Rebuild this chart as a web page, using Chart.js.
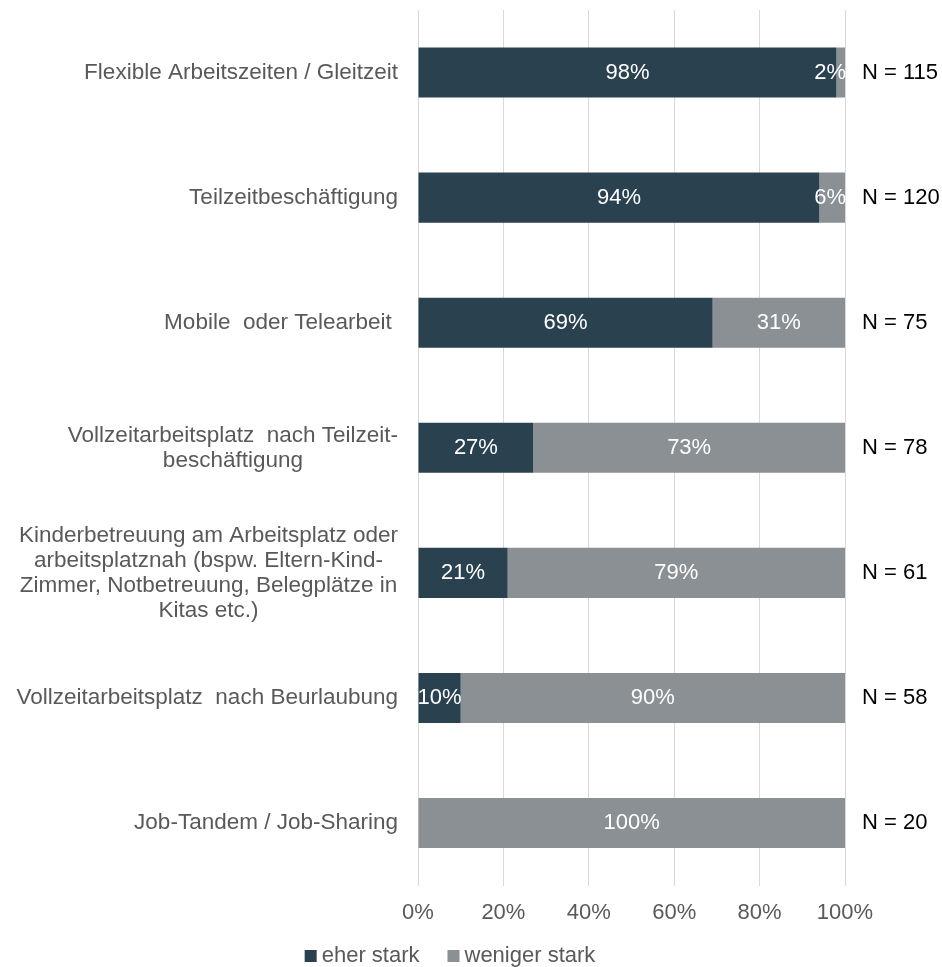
<!DOCTYPE html>
<html>
<head>
<meta charset="utf-8">
<script src="https://cdn.jsdelivr.net/npm/chart.js@4/dist/chart.umd.min.js"></script>
<style>
  html, body { margin: 0; padding: 0; background: #fff; }
  #wrap { width: 942px; height: 967px; }
</style>
</head>
<body>
<div id="wrap"><canvas id="js-chart-massnahmen"></canvas></div>
<script>
// Kategorien (mehrzeilig wie im Original)
const categories = [
  ['Flexible Arbeitszeiten / Gleitzeit'],
  ['Teilzeitbeschäftigung'],
  ['Mobile  oder Telearbeit '],
  ['Vollzeitarbeitsplatz  nach Teilzeit-', 'beschäftigung'],
  ['Kinderbetreuung am Arbeitsplatz oder', 'arbeitsplatznah (bspw. Eltern-Kind-', 'Zimmer, Notbetreuung, Belegplätze in', 'Kitas etc.)'],
  ['Vollzeitarbeitsplatz  nach Beurlaubung'],
  ['Job-Tandem / Job-Sharing']
];
const eherStark = [98, 94, 69, 27, 21, 10, 0];
const wenigerStark = [2, 6, 31, 73, 79, 90, 100];
const nValues = [115, 120, 75, 78, 61, 58, 20];
const xTicks = [0, 20, 40, 60, 80, 100];

const fontFamily = '"Liberation Sans", Arial, sans-serif';
const fontSize = 22;
const textColor = '#595959';

// Kategorie-Beschriftungen links (Block rechtsbündig, Zeilen zentriert)
const categoryLabels = {
  id: 'categoryLabels',
  afterDraw(chart) {
    const ctx = chart.ctx;
    const yScale = chart.scales.y;
    const right = chart.chartArea.left - 20;
    const lineHeight = 25;
    ctx.save();
    ctx.font = '22.5px ' + fontFamily;
    ctx.fillStyle = textColor;
    ctx.textAlign = 'center';
    ctx.textBaseline = 'middle';
    categories.forEach((lines, i) => {
      const maxW = Math.max(...lines.map(l => ctx.measureText(l).width));
      const cx = right - maxW / 2;
      const cy = yScale.getPixelForValue(i);
      const top = cy - (lines.length - 1) * lineHeight / 2;
      lines.forEach((l, j) => ctx.fillText(l, cx, top + j * lineHeight));
    });
    ctx.restore();
  }
};

// Prozentwerte in den Balken und N rechts
const valueLabels = {
  id: 'valueLabels',
  afterDatasetsDraw(chart) {
    const ctx = chart.ctx;
    const area = chart.chartArea;
    ctx.save();
    ctx.font = fontSize + 'px ' + fontFamily;
    ctx.textAlign = 'center';
    ctx.textBaseline = 'middle';
    ctx.fillStyle = '#ffffff';
    chart.data.datasets.forEach((ds, di) => {
      chart.getDatasetMeta(di).data.forEach((bar, i) => {
        const v = ds.data[i];
        if (!v) return;
        const text = v + '%';
        const w = ctx.measureText(text).width;
        // schmale Segmente am rechten Rand: Beschriftung nicht über den Rand schieben
        const cx = Math.min((bar.x + bar.base) / 2, area.right - w / 2 + 1);
        ctx.fillText(text, cx, bar.y);
      });
    });
    ctx.fillStyle = '#000000';
    ctx.textAlign = 'left';
    const yScale = chart.scales.y;
    nValues.forEach((n, i) => {
      ctx.fillText('N = ' + n, area.right + 17, yScale.getPixelForValue(i));
    });
    ctx.restore();
  }
};

// Legende unten (kleine Quadrate, enger Abstand zum Text)
const bottomLegend = {
  id: 'bottomLegend',
  afterDraw(chart) {
    const ctx = chart.ctx;
    const box = 12, gap = 5, itemGap = 28;
    const cy = 956;
    ctx.save();
    ctx.font = fontSize + 'px ' + fontFamily;
    ctx.textBaseline = 'middle';
    ctx.textAlign = 'left';
    const items = chart.data.datasets.map(ds => ({
      text: ds.label, color: ds.backgroundColor, w: box + gap + ctx.measureText(ds.label).width
    }));
    const total = items.reduce((s, it) => s + it.w, 0) + itemGap * (items.length - 1);
    let x = 450 - total / 2;
    items.forEach(it => {
      ctx.fillStyle = it.color;
      ctx.fillRect(x, cy - box / 2, box, box);
      ctx.fillStyle = textColor;
      ctx.fillText(it.text, x + box + gap, cy);
      x += it.w + itemGap;
    });
    ctx.restore();
  }
};

Chart.defaults.font.family = fontFamily;
Chart.defaults.font.size = fontSize;
Chart.defaults.color = textColor;

new Chart(document.getElementById('js-chart-massnahmen'), {
  type: 'bar',
  data: {
    labels: categories,
    datasets: [
      {
        label: 'eher stark',
        data: eherStark,
        backgroundColor: '#2a4150',
        barPercentage: 0.4,
        categoryPercentage: 1
      },
      {
        label: 'weniger stark',
        data: wenigerStark,
        backgroundColor: '#8a9094',
        barPercentage: 0.4,
        categoryPercentage: 1
      }
    ]
  },
  options: {
    indexAxis: 'y',
    responsive: true,
    maintainAspectRatio: false,
    animation: false,
    layout: {padding: {left: 418, right: 97, top: 10, bottom: 27}},
    scales: {
      x: {
        stacked: true,
        min: 0,
        max: 100,
        afterBuildTicks(scale) { scale.ticks = xTicks.map(v => ({value: v})); },
        ticks: {callback: v => v + '%', padding: 14, color: textColor},
        grid: {color: '#d9d9d9', drawTicks: false, lineWidth: 1},
        border: {display: false}
      },
      y: {
        stacked: true,
        afterFit(scale) { scale.width = 0; },
        ticks: {display: false},
        grid: {display: false},
        border: {display: false}
      }
    },
    plugins: {
      legend: {display: false},
      tooltip: {enabled: false}
    }
  },
  plugins: [categoryLabels, valueLabels, bottomLegend]
});
</script>
</body>
</html>
